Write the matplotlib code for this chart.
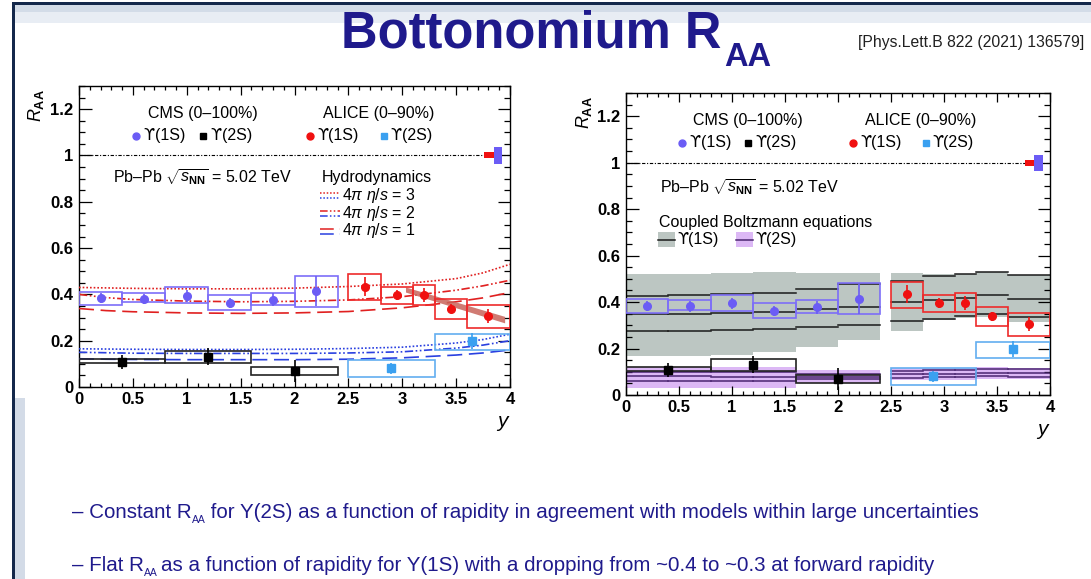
import matplotlib
matplotlib.use('Agg')
import matplotlib.pyplot as plt
import numpy as np
from matplotlib.patches import Rectangle
from matplotlib.transforms import IdentityTransform
from matplotlib.ticker import MultipleLocator, FuncFormatter

plt.rcParams['font.family'] = ['Liberation Sans', 'DejaVu Sans']
plt.rcParams['mathtext.fontset'] = 'custom'
plt.rcParams['mathtext.rm'] = 'Liberation Sans'
plt.rcParams['mathtext.it'] = 'Liberation Sans:italic'
plt.rcParams['mathtext.bf'] = 'Liberation Sans:bold'

# ---- data ----
cms1s_edges = [0.0, 0.4, 0.8, 1.2, 1.6, 2.0, 2.4]
cms1s_val = [0.383, 0.381, 0.394, 0.362, 0.377, 0.414]
cms1s_stat = [0.022, 0.022, 0.025, 0.022, 0.028, 0.065]
cms1s_lo = [0.353, 0.365, 0.362, 0.332, 0.353, 0.347]
cms1s_hi = [0.412, 0.408, 0.432, 0.396, 0.408, 0.481]

cms2s_edges = [0.0, 0.8, 1.6, 2.4]
cms2s_val = [0.107, 0.131, 0.070]
cms2s_stat = [0.031, 0.037, 0.048]
cms2s_lo = [0.102, 0.102, 0.050]
cms2s_hi = [0.120, 0.156, 0.087]

alice1s_edges = [2.5, 2.8, 3.1, 3.3, 3.6, 4.0]
alice1s_val = [0.434, 0.396, 0.398, 0.338, 0.305]
alice1s_stat = [0.040, 0.022, 0.030, 0.020, 0.030]
alice1s_lo = [0.376, 0.359, 0.356, 0.295, 0.254]
alice1s_hi = [0.488, 0.430, 0.439, 0.380, 0.352]

alice2s_edges = [2.5, 3.3, 4.0]
alice2s_val = [0.080, 0.197]
alice2s_stat = [0.025, 0.035]
alice2s_lo = [0.045, 0.160]
alice2s_hi = [0.116, 0.230]

glob_bins = [(3.76, 3.85), (3.85, 3.93)]
glob_err = [0.013, 0.035]

# hydrodynamics (left panel)
hydro_x = [0, 0.25, 0.5, 1, 1.5, 2, 2.5, 3, 3.5, 3.75, 4]
hydro_1s = {3: [0.430, 0.428, 0.426, 0.424, 0.424, 0.427, 0.434, 0.445, 0.468, 0.493, 0.530],
            2: [0.400, 0.386, 0.378, 0.371, 0.368, 0.370, 0.376, 0.390, 0.418, 0.437, 0.461],
            1: [0.339, 0.330, 0.325, 0.320, 0.318, 0.320, 0.326, 0.342, 0.368, 0.385, 0.408]}
hydro_2s = {3: [0.165, 0.164, 0.163, 0.162, 0.162, 0.163, 0.166, 0.172, 0.190, 0.205, 0.228],
            2: [0.150, 0.148, 0.146, 0.145, 0.145, 0.145, 0.147, 0.152, 0.168, 0.181, 0.200],
            1: [0.122, 0.120, 0.119, 0.118, 0.118, 0.118, 0.120, 0.126, 0.138, 0.147, 0.160]}
trend_x = [3.03, 3.95]
trend_lo = [0.410, 0.277]
trend_hi = [0.432, 0.305]

# coupled Boltzmann (right panel), two groups of bins
bz_edges = [[0.0, 0.4, 0.8, 1.2, 1.6, 2.0, 2.4], [2.5, 2.8, 3.1, 3.3, 3.6, 4.0]]
bz1s_hi = [[0.522, 0.522, 0.525, 0.529, 0.525, 0.525], [0.527, 0.522, 0.522, 0.529, 0.517]]
bz1s_lo = [[0.168, 0.170, 0.172, 0.186, 0.205, 0.236], [0.276, 0.322, 0.330, 0.336, 0.315]]
bz1s_lines = [[[0.425, 0.429, 0.434, 0.441, 0.455, 0.476], [0.348, 0.350, 0.353, 0.358, 0.369, 0.379],
               [0.275, 0.276, 0.279, 0.286, 0.291, 0.303]],
              [[0.490, 0.512, 0.519, 0.529, 0.515], [0.401, 0.411, 0.419, 0.429, 0.415],
               [0.319, 0.329, 0.339, 0.348, 0.336]]]
bz2s_hi = [[0.119, 0.119, 0.119, 0.119, 0.107, 0.107], [0.115, 0.117, 0.117, 0.119, 0.117]]
bz2s_lo = [[0.032, 0.032, 0.032, 0.032, 0.050, 0.050], [0.064, 0.066, 0.066, 0.069, 0.067]]
bz2s_lines = [[[0.098, 0.098, 0.097, 0.097, 0.090, 0.090], [0.080, 0.080, 0.079, 0.079, 0.079, 0.079],
               [0.060, 0.060, 0.060, 0.060, 0.068, 0.068]],
              [[0.105, 0.109, 0.109, 0.112, 0.110], [0.090, 0.092, 0.092, 0.094, 0.093],
               [0.075, 0.078, 0.078, 0.080, 0.079]]]

C_CMS1 = '#6b5cf5'
C_ALI1 = '#f01010'
C_ALI2 = '#3aa0f0'
C_RED = '#e02020'
C_BLUE = '#2a40e0'
C_GRAY = '#bcc6c2'
C_PURP = '#dcb8f5'
C_TITLE = '#1f1a8c'
UPS = '\u03d2'

fig = plt.figure(figsize=(10.91, 5.79), dpi=100)
W, H = 1091, 579


def px_rect(x0, y0, x1, y1, color):
    fig.add_artist(Rectangle((x0, H - y1), x1 - x0, y1 - y0, transform=IdentityTransform(),
                             color=color, lw=0, zorder=0))


# slide decoration
px_rect(15, 5, W, 12, '#d3dce8')
px_rect(15, 12, W, 23, '#e8edf4')
px_rect(12, 2, W, 5, '#14284b')
px_rect(12, 2, 15, H, '#14284b')
px_rect(15, 398, 25, H, '#d3dbe7')


def rich(x, y, parts, color):
    r = fig.canvas.get_renderer()
    for s, size, dy, dx, w in parts:
        t = fig.text(x + dx, H - y - dy, s, transform=IdentityTransform(), fontsize=size,
                     weight=w, color=color, va='baseline', ha='left')
        x = t.get_window_extent(r).x1 + dx


rich(341, 47, [('Bottonomium R', 36.5, 0, 0, 'bold'), ('AA', 23.5, 19, 3, 'bold')], C_TITLE)
fig.text(858, H - 47, '[Phys.Lett.B 822 (2021) 136579]', transform=IdentityTransform(),
         fontsize=11.3, color='#202020', va='baseline')
rich(72, 518, [('\u2013 Constant R', 14.8, 0, 0, 'normal'), ('AA', 7.5, 5, 0, 'normal'),
               (' for \u03a5(2S) as a function of rapidity in agreement with models within large uncertainties',
                14.8, 0, 0, 'normal')], C_TITLE)
rich(72, 571, [('\u2013 Flat R', 14.8, 0, 0, 'normal'), ('AA', 7.5, 5, 0, 'normal'),
               ('as a function of rapidity for \u03a5(1S) with a dropping from ~0.4 to ~0.3 at forward rapidity',
                14.8, 0, 3, 'normal')], C_TITLE)

ax1 = fig.add_axes([79 / W, 1 - 387 / H, (510 - 79) / W, (387 - 86) / H])
ax2 = fig.add_axes([626 / W, 1 - 395 / H, (1050 - 626) / W, (395 - 93) / H])


def boxes(ax, edges, lo, hi, color, lw=1.2):
    for i in range(len(lo)):
        ax.add_patch(Rectangle((edges[i], lo[i]), edges[i + 1] - edges[i], hi[i] - lo[i],
                               fill=False, ec=color, lw=lw, zorder=5))


def points(ax, edges, val, stat, color, marker, ms):
    e = np.array(edges)
    xc = (e[:-1] + e[1:]) / 2
    ax.errorbar(xc, val, yerr=stat, fmt=marker, color=color, ms=ms, elinewidth=1.2,
                capsize=0, zorder=6)


def draw_data(ax):
    ax.axhline(1, color='black', lw=0.8, ls=(0, (3, 1.5, 1, 1.5)), zorder=2)
    boxes(ax, cms1s_edges, cms1s_lo, cms1s_hi, '#7d6ef8')
    boxes(ax, cms2s_edges, cms2s_lo, cms2s_hi, '#222222')
    boxes(ax, alice1s_edges, alice1s_lo, alice1s_hi, '#ee2a2a')
    boxes(ax, alice2s_edges, alice2s_lo, alice2s_hi, '#62aef0')
    points(ax, cms1s_edges, cms1s_val, cms1s_stat, C_CMS1, 'o', 5.5)
    points(ax, cms2s_edges, cms2s_val, cms2s_stat, 'black', 's', 6)
    points(ax, alice1s_edges, alice1s_val, alice1s_stat, C_ALI1, 'o', 5.5)
    points(ax, alice2s_edges, alice2s_val, alice2s_stat, C_ALI2, 's', 6)
    for (x0, x1), err, c in zip(glob_bins, glob_err, [C_ALI1, C_CMS1]):
        ax.add_patch(Rectangle((x0, 1 - err), x1 - x0, 2 * err, color=c, lw=0, zorder=6))


def style(ax):
    ax.set_xlim(0, 4)
    ax.set_ylim(0, 1.3)
    ax.xaxis.set_major_locator(MultipleLocator(0.5))
    ax.xaxis.set_minor_locator(MultipleLocator(0.1))
    ax.yaxis.set_major_locator(MultipleLocator(0.2))
    ax.yaxis.set_minor_locator(MultipleLocator(0.05))
    fmt = FuncFormatter(lambda v, p: f'{v:g}')
    ax.xaxis.set_major_formatter(fmt)
    ax.yaxis.set_major_formatter(fmt)
    ax.tick_params(which='both', direction='in', top=True, right=True, width=0.9)
    ax.tick_params(axis='x', which='major', length=6.5, pad=3.5)
    ax.tick_params(axis='x', which='minor', length=3.2)
    ax.tick_params(axis='y', which='major', length=9, pad=4)
    ax.tick_params(axis='y', which='minor', length=4.5)
    for lab in ax.get_xticklabels() + ax.get_yticklabels():
        lab.set_fontsize(12)
        lab.set_fontweight('bold')
    for s in ax.spines.values():
        s.set_linewidth(1.0)
    ax.text(-0.1, 0.99, r'$R_{\mathbf{AA}}$', transform=ax.transAxes, rotation=90,
            ha='center', va='top', fontsize=13)
    ax.text(0.985, -0.09, r'$y$', transform=ax.transAxes, ha='center', va='top', fontsize=15)


def ups_label(ax, x, y, s):
    # the ROOT-style upsilon comes from DejaVu, the rest from the sans face
    t = ax.text(x, y, UPS, va='center', fontsize=11.5, family='DejaVu Sans')
    ax.annotate(s, xy=(1, 0.5), xycoords=t, va='center', fontsize=11.5)


def header(ax):
    ax.text(1.15, 1.18, 'CMS (0\u2013100%)', ha='center', va='center', fontsize=11.5)
    ax.text(2.78, 1.18, 'ALICE (0\u201390%)', ha='center', va='center', fontsize=11.5)
    ly = 1.086
    ax.plot([0.53], [ly], 'o', color=C_CMS1, ms=5)
    ups_label(ax, 0.60, ly, '(1S)')
    ax.plot([1.15], [ly], 's', color='black', ms=5)
    ups_label(ax, 1.22, ly, '(2S)')
    ax.plot([2.14], [ly], 'o', color=C_ALI1, ms=5)
    ups_label(ax, 2.21, ly, '(1S)')
    ax.plot([2.83], [ly], 's', color=C_ALI2, ms=5)
    ups_label(ax, 2.89, ly, '(2S)')


# ---- left panel: hydrodynamics ----
styles = {3: (0, (1, 1.2)), 2: (0, (5, 1.5, 1, 1.5, 1, 1.5)), 1: (0, (9, 4))}
for k in [3, 2, 1]:
    ax1.plot(hydro_x, hydro_1s[k], color=C_RED, lw=1.2, ls=styles[k], zorder=3)
    ax1.plot(hydro_x, hydro_2s[k], color=C_BLUE, lw=1.2, ls=styles[k], zorder=3)
ax1.fill_between(trend_x, trend_lo, trend_hi, color='#c8645a', alpha=0.85, lw=0, zorder=4)
draw_data(ax1)
style(ax1)
header(ax1)
ax1.text(0.32, 0.906, r'Pb$\mathregular{\endash}$Pb $\sqrt{s_{\mathbf{NN}}}$ = 5.02 TeV',
         va='center', fontsize=11.5)
ax1.text(2.25, 0.906, 'Hydrodynamics', va='center', fontsize=11.5)
for k, ty in zip([3, 2, 1], [0.828, 0.749, 0.674]):
    ax1.plot([2.24, 2.42], [ty + 0.01, ty + 0.01], color=C_RED, lw=1.1, ls=styles[k])
    ax1.plot([2.24, 2.42], [ty - 0.012, ty - 0.012], color=C_BLUE, lw=1.1, ls=styles[k])
    ax1.text(2.44, ty, r'4$\pi$ $\eta/s$ = %d' % k, va='center', fontsize=11.5)

# ---- right panel: coupled Boltzmann ----
for g in range(2):
    e = bz_edges[g]
    for i in range(len(e) - 1):
        ax2.fill_between([e[i], e[i + 1]], bz1s_lo[g][i], bz1s_hi[g][i], color=C_GRAY, lw=0, zorder=1)
        ax2.fill_between([e[i], e[i + 1]], bz2s_lo[g][i], bz2s_hi[g][i], color=C_PURP, lw=0, zorder=1)
        for ln in bz1s_lines[g]:
            ax2.plot([e[i], e[i + 1]], [ln[i], ln[i]], color='#1a1a1a', lw=1.1, zorder=2)
        for ln in bz2s_lines[g]:
            ax2.plot([e[i], e[i + 1]], [ln[i], ln[i]], color='#4a2570', lw=1.1, zorder=2)
draw_data(ax2)
style(ax2)
header(ax2)
ax2.text(0.32, 0.897, r'Pb$\mathregular{\endash}$Pb $\sqrt{s_{\mathbf{NN}}}$ = 5.02 TeV',
         va='center', fontsize=11.5)
ax2.text(0.31, 0.744, 'Coupled Boltzmann equations', va='center', fontsize=11.5)
ax2.add_patch(Rectangle((0.30, 0.636), 0.16, 0.064, color=C_GRAY, lw=0))
ax2.plot([0.30, 0.46], [0.668, 0.668], color='#1a1a1a', lw=1.1)
ups_label(ax2, 0.48, 0.668, '(1S)')
ax2.add_patch(Rectangle((1.035, 0.636), 0.165, 0.064, color=C_PURP, lw=0))
ax2.plot([1.035, 1.2], [0.668, 0.668], color='#4a2570', lw=1.1)
ups_label(ax2, 1.22, 0.668, '(2S)')

fig.savefig('out.png', dpi=100)
